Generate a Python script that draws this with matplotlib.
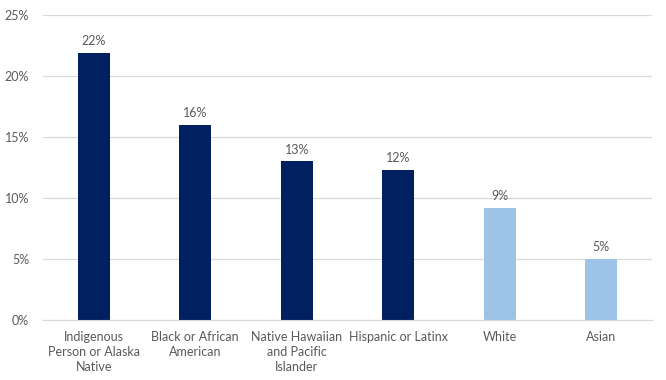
import matplotlib
matplotlib.use("Agg")
import matplotlib.pyplot as plt
from matplotlib.ticker import FuncFormatter

categories = ["Indigenous\nPerson or Alaska\nNative", "Black or African\nAmerican",
              "Native Hawaiian\nand Pacific\nIslander", "Hispanic or Latinx", "White", "Asian"]
values = [21.9, 16.0, 13.0, 12.3, 9.2, 5.0]
labels = ["22%", "16%", "13%", "12%", "9%", "5%"]
colors = ["#002060", "#002060", "#002060", "#002060", "#9DC3E6", "#9DC3E6"]
yticks = [0, 5, 10, 15, 20, 25]

plt.rcParams['font.family'] = ['Lato', 'DejaVu Sans']
txt = "#595959"

fig = plt.figure(figsize=(6.66, 3.8), dpi=100)
ax = fig.add_axes([0.0646, 0.158, 0.9144, 0.8025])
x = range(len(categories))
bars = ax.bar(x, values, width=0.315, color=colors, zorder=3)
for b, lab in zip(bars, labels):
    ax.annotate(lab, (b.get_x() + b.get_width() / 2, b.get_height()),
                xytext=(0, 4), textcoords="offset points", ha="center", va="bottom",
                fontsize=9, color=txt)
ax.set_xlim(-0.5, len(categories) - 0.5)
ax.set_ylim(0, 25)
ax.set_yticks(yticks)
ax.yaxis.set_major_formatter(FuncFormatter(lambda v, p: f"{v:.0f}%"))
ax.set_xticks(list(x))
ax.set_xticklabels(categories, fontsize=9, color=txt, linespacing=1.3)
ax.tick_params(axis="y", labelsize=9, labelcolor=txt, length=0, pad=10)
ax.tick_params(axis="x", length=0, pad=8)
ax.grid(axis="y", color="#D9D9D9", linewidth=0.9, zorder=0)
for s in ["top", "right", "left"]:
    ax.spines[s].set_visible(False)
ax.spines["bottom"].set_color("#D9D9D9")
ax.spines["bottom"].set_zorder(4)
fig.savefig("out.png", dpi=100)
